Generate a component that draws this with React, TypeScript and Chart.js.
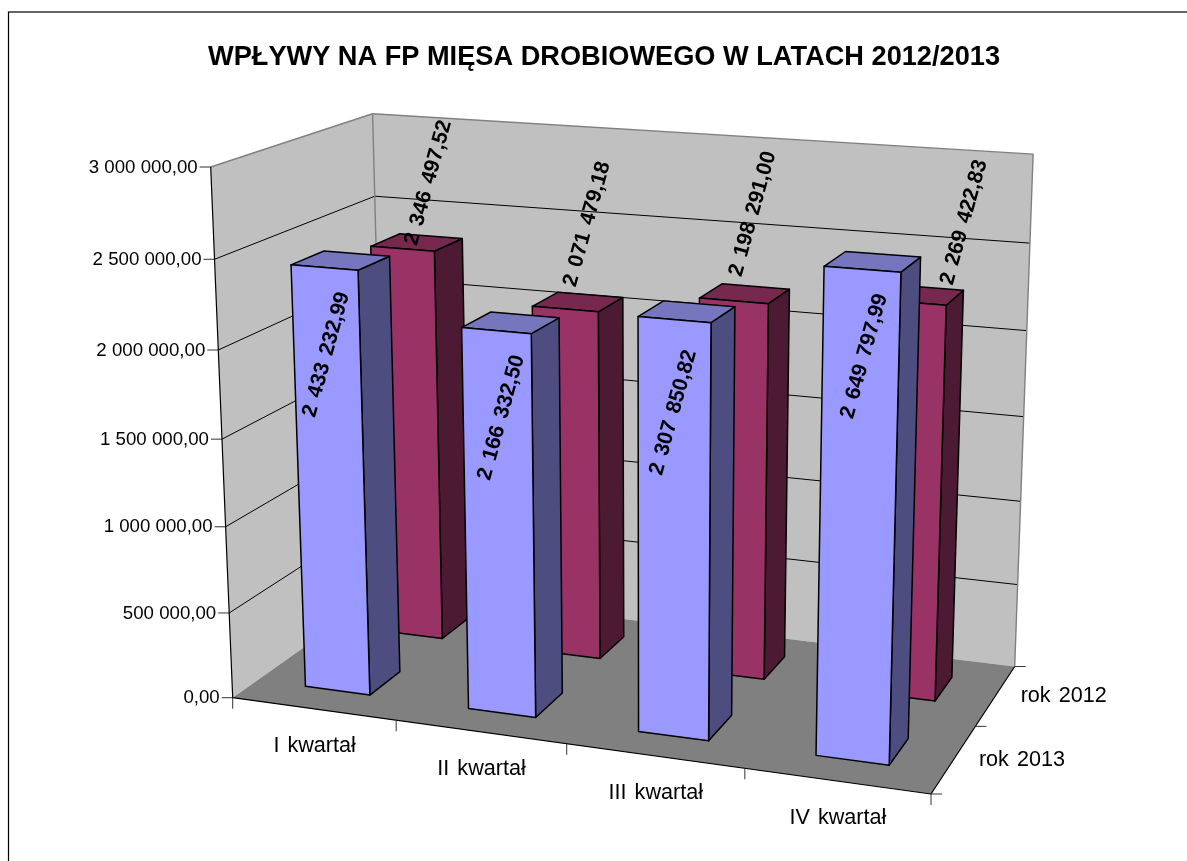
import React, { useEffect, useRef } from "react";
import { Chart, registerables } from "chart.js";

Chart.register(...registerables);

const chartTitle = "WPŁYWY NA FP MIĘSA DROBIOWEGO W LATACH 2012/2013";
const categories = ["I kwartał", "II kwartał", "III kwartał", "IV kwartał"];
const seriesNames = ["rok 2013", "rok 2012"];
const rok2013 = [2433232.99, 2166332.5, 2307850.82, 2649797.99];
const rok2012 = [2346497.52, 2071479.18, 2198291.0, 2269422.83];

const FONT = '"Liberation Sans", Arial, sans-serif';

// Perspective box of the plot: image of the origin and of the three axis ends, with their weights.
const O = [232.7, 697.7];
const X = [931, 794];
const Y = [210.7, 167];
const Z = [385, 590];
const WX = 0.917;
const WY = 0.95;
const WZ = 1.12;

function project(u: number, v: number, w: number): [number, number] {
  const k = 1 - u - v - w;
  const d = k + WX * u + WY * v + WZ * w;
  return [
    (k * O[0] + WX * u * X[0] + WY * v * Y[0] + WZ * w * Z[0]) / d,
    (k * O[1] + WX * u * X[1] + WY * v * Y[1] + WZ * w * Z[1]) / d,
  ];
}

type Pt = [number, number];

function poly(ctx: CanvasRenderingContext2D, pts: Pt[], fill: string | null, stroke: string | null, lw = 1) {
  ctx.beginPath();
  pts.forEach((p, i) => (i ? ctx.lineTo(p[0], p[1]) : ctx.moveTo(p[0], p[1])));
  if (fill) {
    ctx.closePath();
    ctx.fillStyle = fill;
    ctx.fill();
  }
  if (stroke) {
    ctx.strokeStyle = stroke;
    ctx.lineWidth = lw;
    ctx.lineJoin = "round";
    ctx.stroke();
  }
}

const faceColors = [
  { front: "#9999FF", side: "#4D4D80", top: "#7676BF" },
  { front: "#993366", side: "#4D1A33", top: "#77284F" },
];
const depthBands = [
  [0.15, 0.35],
  [0.65, 0.85],
];
const labelOffsets: Pt[][] = [
  [[2, 87], [5, 87], [-1, 93], [2, 87]],
  [[26, -66], [22, -85], [19, -87], [54, -80]],
];

const box3d = {
  id: "box3d",
  beforeDatasetsDraw(chart: any) {
    const { ctx, chartArea: area, scales } = chart;
    const yS = scales.y;
    const xS = scales.x;
    const vOf = (px: number) => (area.bottom - px) / area.height;
    const uOf = (px: number) => (px - area.left) / area.width;

    ctx.save();
    // frame
    ctx.strokeStyle = "#000";
    ctx.lineWidth = 1.2;
    ctx.strokeRect(8.5, 12, 1300, 1000);

    // walls and floor
    poly(ctx, [project(0, 0, 0), project(0, 1, 0), project(0, 1, 1), project(0, 0, 1)], "#C0C0C0", null);
    poly(ctx, [project(0, 0, 1), project(0, 1, 1), project(1, 1, 1), project(1, 0, 1)], "#C0C0C0", null);
    poly(ctx, [project(0, 0, 0), project(1, 0, 0), project(1, 0, 1), project(0, 0, 1)], "#808080", null);

    // value grid, ticks and labels
    yS.ticks.forEach((t: any) => {
      const v = vOf(yS.getPixelForValue(t.value));
      if (v > 0.001 && v < 0.999) {
        poly(ctx, [project(0, v, 0), project(0, v, 1), project(1, v, 1)], null, "#000", 1);
      }
      const p = project(0, v, 0);
      poly(ctx, [[p[0] - 11, p[1]], p], null, "#333", 1);
      ctx.fillStyle = "#000";
      ctx.font = `18.67px ${FONT}`;
      ctx.textAlign = "right";
      ctx.textBaseline = "middle";
      ctx.fillText(t.label, p[0] - 13, p[1] + 0.5);
    });

    // wall edges
    poly(ctx, [project(0, 1, 0), project(0, 1, 1), project(1, 1, 1), project(1, 0, 1)], null, "#808080", 1.4);
    poly(ctx, [project(0, 0, 1), project(0, 1, 1)], null, "#808080", 1.4);
    // axes
    poly(ctx, [project(0, 1, 0), project(0, 0, 0), project(1, 0, 0), project(1, 0, 1)], null, "#000", 1.2);

    // category ticks & labels
    const nCat = xS.ticks.length;
    for (let i = 0; i <= nCat; i++) {
      const p = project(i / nCat, 0, 0);
      poly(ctx, [p, [p[0], p[1] + 11]], null, "#333", 1);
    }
    (ctx as any).wordSpacing = "2px";
    xS.ticks.forEach((t: any, i: number) => {
      const u = uOf(xS.getPixelForValue(t.value));
      const p = project(u, 0, 0);
      ctx.fillStyle = "#000";
      ctx.font = `21.6px ${FONT}`;
      ctx.textAlign = "center";
      ctx.textBaseline = "middle";
      ctx.fillText(categories[i], p[0] + 1, p[1] + 37);
    });

    // series ticks & labels
    const nSer = chart.data.datasets.length;
    for (let i = 0; i <= nSer; i++) {
      const p = project(1, 0, i / nSer);
      poly(ctx, [p, [p[0] + 11, p[1]]], null, "#333", 1);
    }
    chart.data.datasets.forEach((d: any, i: number) => {
      const p = project(1, 0, (i + 0.5) / nSer);
      ctx.fillStyle = "#000";
      ctx.font = `21.6px ${FONT}`;
      ctx.textAlign = "left";
      ctx.textBaseline = "middle";
      ctx.fillText(d.label, p[0] + 25, p[1] + 0.5);
    });
    (ctx as any).wordSpacing = "0px";

    // bars: back row first, left to right
    for (let ds = nSer - 1; ds >= 0; ds--) {
      const meta = chart.getDatasetMeta(ds);
      const [w0, w1] = depthBands[ds];
      const col = faceColors[ds];
      meta.data.forEach((el: any) => {
        const u0 = uOf(el.x - el.width / 2);
        const u1 = uOf(el.x + el.width / 2);
        const v0 = vOf(el.base);
        const v1 = vOf(el.y);
        poly(ctx, [project(u1, v0, w0), project(u1, v1, w0), project(u1, v1, w1), project(u1, v0, w1)], col.side, "#000", 1.5);
        poly(ctx, [project(u0, v1, w0), project(u1, v1, w0), project(u1, v1, w1), project(u0, v1, w1)], col.top, "#000", 1.5);
        poly(ctx, [project(u0, v0, w0), project(u1, v0, w0), project(u1, v1, w0), project(u0, v1, w0)], col.front, "#000", 1.5);
      });
    }

    // data labels
    (ctx as any).wordSpacing = "2.5px";
    for (let ds = nSer - 1; ds >= 0; ds--) {
      const meta = chart.getDatasetMeta(ds);
      const w0 = depthBands[ds][0];
      meta.data.forEach((el: any, i: number) => {
        const val = chart.data.datasets[ds].data[i];
        const p = project(uOf(el.x), vOf(el.y), w0);
        const off = labelOffsets[ds][i];
        ctx.save();
        ctx.translate(p[0] + off[0], p[1] + off[1]);
        ctx.rotate((-74.5 * Math.PI) / 180);
        ctx.fillStyle = "#000";
        ctx.font = `bold 21.2px ${FONT}`;
        ctx.textAlign = "center";
        ctx.textBaseline = "middle";
        ctx.fillText(formatValue(val, 2), 0, 0);
        ctx.restore();
      });
    }
    (ctx as any).wordSpacing = "0px";
    ctx.restore();
    return false;
  },
};

function formatValue(n: number, d = 2) {
  const [a, b] = n.toFixed(d).split(".");
  return a.replace(/\B(?=(\d{3})+(?!\d))/g, " ") + "," + b;
}

export default function App() {
  const ref = useRef<HTMLCanvasElement>(null);
  useEffect(() => {
    const chart = new Chart(ref.current!, {
      type: "bar",
      data: {
        labels: categories,
        datasets: [
          { label: seriesNames[0], data: rok2013, backgroundColor: faceColors[0].front, grouped: false },
          { label: seriesNames[1], data: rok2012, backgroundColor: faceColors[1].front, grouped: false },
        ],
      },
      options: {
        responsive: false,
        animation: false,
        events: [],
        barPercentage: 0.4,
        categoryPercentage: 1,
        layout: { padding: 0 },
        plugins: {
          legend: { display: false },
          tooltip: { enabled: false },
          title: {
            display: true,
            text: chartTitle,
            color: "#000",
            font: { family: FONT, size: 27.2, weight: "bold" },
            padding: { top: 41, bottom: 10 },
          },
        },
        scales: {
          x: { ticks: { display: false }, grid: { display: false }, border: { display: false } },
          y: {
            min: 0,
            max: 3000000,
            ticks: { display: false, stepSize: 500000, callback: (v: any) => formatValue(Number(v), 2) },
            grid: { display: false },
            border: { display: false },
          },
        },
      },
      plugins: [box3d],
    } as any);
    return () => chart.destroy();
  }, []);
  return (
    <div style={{ position: "fixed", left: 0, top: 0, width: 1187, height: 861, overflow: "hidden", background: "#fff" }}>
      <canvas ref={ref} width={1208} height={861} style={{ display: "block" }} />
    </div>
  );
}
